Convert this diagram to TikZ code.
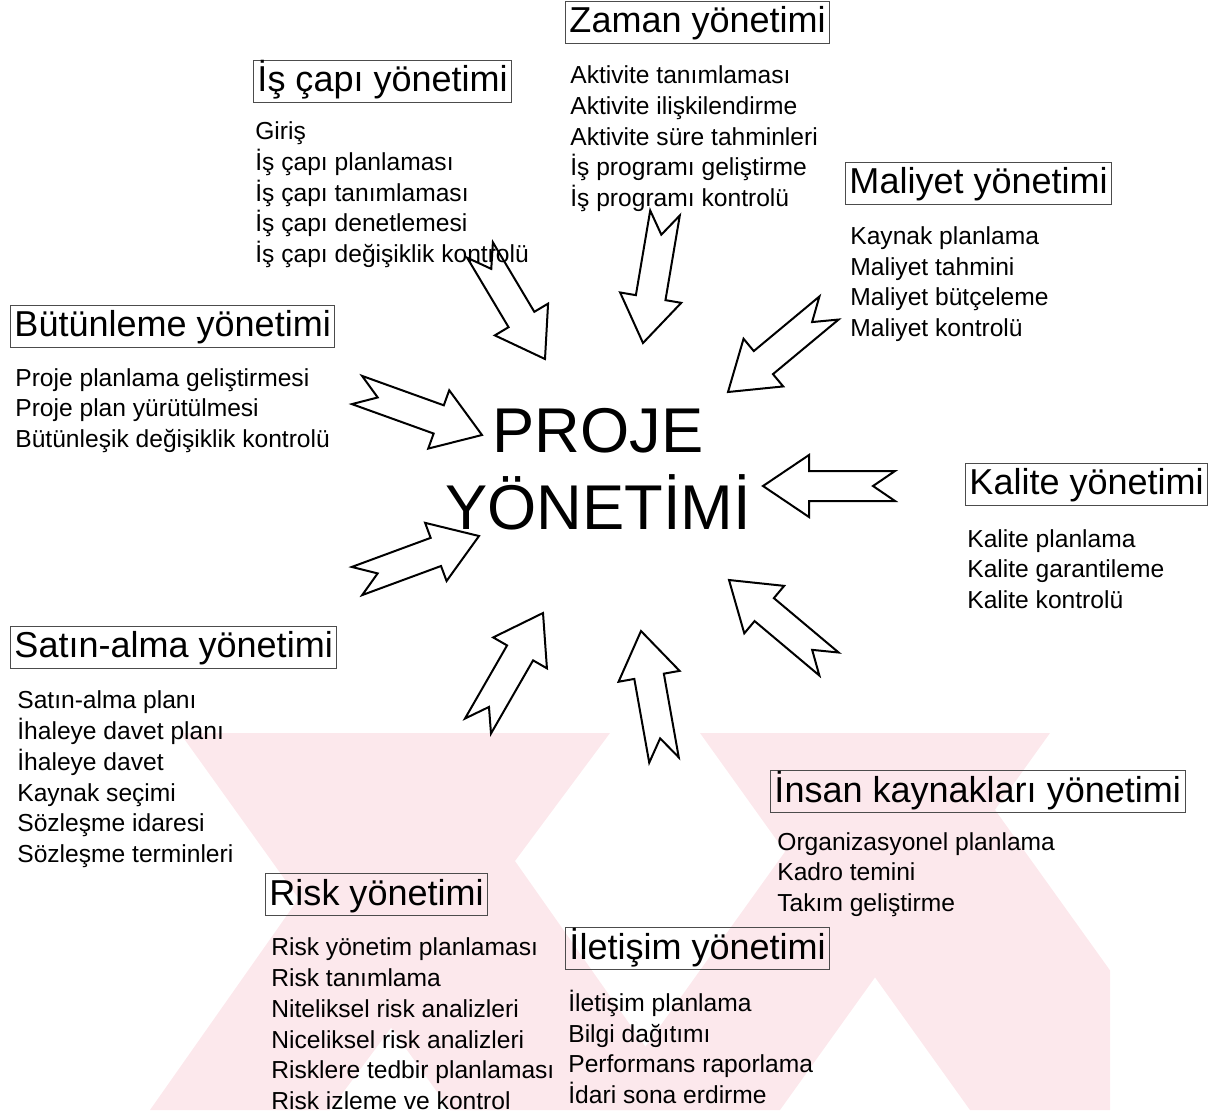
\documentclass[tikz,border=0pt]{standalone}
\usepackage{fontspec}
\setmainfont{Liberation Sans}
\usetikzlibrary{calc, positioning}
\definecolor{pm_pink}{RGB}{252, 232, 236}

% notched block arrow from tail (#1) to tip (#2)
\newcommand{\blkarrow}[2]{%
  \coordinate (hb) at ($(#2)!9.2mm!(#1)$);
  \draw[blkarr] ($(#1)!3mm!90:(#2)$) -- ($(hb)!3mm!90:(#2)$)
    -- ($(hb)!6.2mm!90:(#2)$) -- (#2) -- ($(hb)!6.2mm!-90:(#2)$)
    -- ($(hb)!3mm!-90:(#2)$) -- ($(#1)!3mm!-90:(#2)$)
    -- ($(#1)!4.4mm!(#2)$) -- cycle;}

\begin{document}
\begin{tikzpicture}[x=0.2mm, y=-0.2mm,
            hd/.style={draw=black!70, line width=0.5pt, anchor=north west,
                       font=\fontsize{20.5}{24}\selectfont, inner xsep=2.3pt,
                       inner ysep=0pt, text height=17pt, text depth=5pt,
                       minimum height=8.4mm},
            lst/.style={anchor=base west, align=left, inner sep=0pt,
                        font=\fontsize{14}{17.6}\selectfont},
            blkarr/.style={draw, line width=0.4mm, line join=miter}]
            \useasboundingbox (0,0) rectangle (1220,1118);
            % watermark
            \begin{scope}
              \clip (150,733) rectangle (1110,1110);
              \fill[pm_pink] (180,733) -- (425,733) -- (690,1110) -- (450,1110) -- cycle;
              \fill[pm_pink] (150,1110) -- (330,1110) -- (610,733) -- (415,733) -- cycle;
              \fill[pm_pink] (600,1110) -- (780,1110) -- (1050,733) -- (870,733) -- cycle;
              \fill[pm_pink] (700,733) -- (940,733) -- (1210,1110) -- (970,1110) -- cycle;
            \end{scope}
            % centre
            \node[font=\fontsize{36}{43.7}\selectfont, align=center] (pm)
              at (598,469) {PROJE\\YÖNETİMİ};
            % headings
            \node[hd] (isc) at (253,60) {İş çapı yönetimi};
            \node[hd] (zam) at (565,1) {Zaman yönetimi};
            \node[hd] (mal) at (845,162) {Maliyet yönetimi};
            \node[hd] (but) at (10,305) {Bütünleme yönetimi};
            \node[hd] (kal) at (965,463) {Kalite yönetimi};
            \node[hd] (sat) at (10,626) {Satın-alma yönetimi};
            \node[hd] (ins) at (770,770) {İnsan kaynakları yönetimi};
            \node[hd] (rsk) at (265,873) {Risk yönetimi};
            \node[hd] (ilt) at (565,927) {İletişim yönetimi};
            % processes (anchored at the last line)
            \node[lst] (iscL) at ([shift={(2,160)}]isc.south west)
              {Giriş\\İş çapı planlaması\\İş çapı tanımlaması\\İş çapı denetlemesi\\İş çapı değişiklik kontrolü};
            \node[lst] (zamL) at ([shift={(5,163)}]zam.south west)
              {Aktivite tanımlaması\\Aktivite ilişkilendirme\\Aktivite süre tahminleri\\İş programı geliştirme\\İş programı kontrolü};
            \node[lst] (malL) at ([shift={(5,132)}]mal.south west)
              {Kaynak planlama\\Maliyet tahmini\\Maliyet bütçeleme\\Maliyet kontrolü};
            \node[lst] (butL) at ([shift={(5,100)}]but.south west)
              {Proje planlama geliştirmesi\\Proje plan yürütülmesi\\Bütünleşik değişiklik kontrolü};
            \node[lst] (kalL) at ([shift={(2,103)}]kal.south west)
              {Kalite planlama\\Kalite garantileme\\Kalite kontrolü};
            \node[lst] (satL) at ([shift={(7,194)}]sat.south west)
              {Satın-alma planı\\İhaleye davet planı\\İhaleye davet\\Kaynak seçimi\\Sözleşme idaresi\\Sözleşme terminleri};
            \node[lst] (insL) at ([shift={(7,99)}]ins.south west)
              {Organizasyonel planlama\\Kadro temini\\Takım geliştirme};
            \node[lst] (rskL) at ([shift={(6,194)}]rsk.south west)
              {Risk yönetim planlaması\\Risk tanımlama\\Niteliksel risk analizleri\\Niceliksel risk analizleri\\Risklere tedbir planlaması\\Risk izleme ve kontrol};
            \node[lst] (iltL) at ([shift={(3,134)}]ilt.south west)
              {İletişim planlama\\Bilgi dağıtımı\\Performans raporlama\\İdari sona erdirme};
            % arrows: tail and tip
            \coordinate (iscT) at (480,250); \coordinate (iscH) at (545,359);
            \coordinate (zamT) at (665,213); \coordinate (zamH) at (643,343);
            \coordinate (malT) at (829,308); \coordinate (malH) at (728,392);
            \coordinate (butT) at (357,390); \coordinate (butH) at (482,435);
            \coordinate (kalT) at (895,486); \coordinate (kalH) at (763,486);
            \coordinate (satT) at (357,581); \coordinate (satH) at (479,536);
            \coordinate (rskT) at (478,726); \coordinate (rskH) at (543,613);
            \coordinate (iltT) at (664,760); \coordinate (iltH) at (641,631);
            \coordinate (insT) at (829,664); \coordinate (insH) at (729,580);
            \blkarrow{iscT}{iscH}
            \blkarrow{zamT}{zamH}
            \blkarrow{malT}{malH}
            \blkarrow{butT}{butH}
            \blkarrow{kalT}{kalH}
            \blkarrow{satT}{satH}
            \blkarrow{rskT}{rskH}
            \blkarrow{iltT}{iltH}
            \blkarrow{insT}{insH}
          \end{tikzpicture}
\end{document}
